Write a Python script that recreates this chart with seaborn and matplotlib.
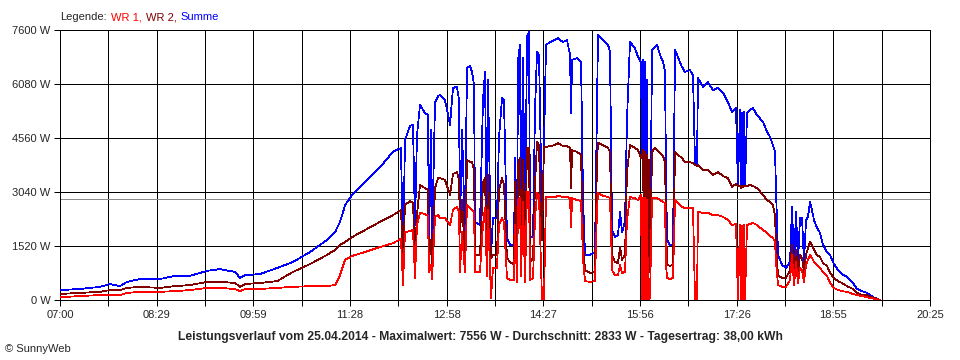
import numpy as np
import pandas as pd
import seaborn as sns
import matplotlib.pyplot as plt

# Zeit in Minuten seit 07:00, Leistung in W
zeit = [0.0, 18.5, 37.0, 46.3, 55.5, 62.0, 74.0, 92.5, 106.4, 120.3, 136.1, 148.0, 161.9, 166.6,
        171.2, 185.1, 200.8, 215.6, 231.3, 247.1, 254.5, 259.1, 263.8, 270.2, 282.2, 296.1, 308.1, 315.5,
        317.4, 319.2, 323.9, 326.6, 328.5, 330.3, 333.1, 337.7, 340.5, 341.4, 343.3, 344.2, 347.0, 349.8,
        351.6, 356.2, 360.9, 363.6, 367.3, 369.2, 370.1, 372.0, 374.7, 376.6, 379.4, 381.2, 383.1, 384.0,
        388.6, 391.4, 393.2, 395.1, 396.0, 398.8, 400.6, 404.3, 406.2, 409.0, 410.8, 413.6, 416.4, 420.1,
        421.0, 422.9, 423.8, 425.6, 426.6, 428.4, 430.3, 432.1, 434.0, 434.9, 437.7, 439.5, 441.4, 443.2,
        444.1, 446.0, 447.8, 449.7,
        453.4, 458.0, 460.8, 465.4, 469.1, 471.9, 472.9, 473.8, 478.4, 482.1, 484.0, 485.8, 490.4, 495.0,
        496.9, 497.8, 502.4, 507.1, 508.9, 510.8, 513.5, 516.3, 518.2, 520.0, 522.8, 524.6, 527.4, 532.0,
        534.8, 537.6,
        538.5, 539.5, 540.4, 541.3, 542.2, 543.2, 544.1, 545.0, 545.9,
        547.8, 550.5, 552.4, 555.2, 558.0, 559.8, 560.7, 561.7, 564.4, 567.2,
        569.1, 571.8, 575.5, 578.3, 582.9, 585.7, 587.6, 589.4, 590.3,
        595.0, 599.6, 604.2, 608.8, 613.5, 618.1, 621.8, 625.5,
        627.3, 629.2, 630.1, 631.0, 632.0, 632.9, 633.8, 635.7,
        638.4, 641.2, 644.9, 650.5, 654.2, 657.0, 659.7, 661.6, 662.5, 664.4,
        668.1, 671.8, 675.5, 677.3, 679.2, 681.0, 682.9, 684.7, 686.6, 688.4,
        690.3, 692.1, 694.0, 695.8, 697.7, 700.4, 703.2, 706.0, 709.7, 712.5,
        716.2, 719.9, 723.6, 728.2, 733.7, 737.5, 742.1, 746.7, 752.3, 756.8, 758.7]

summe = [280, 310, 370, 450, 390, 510, 590, 590, 680, 680, 820, 870, 790, 620,
         700, 730, 900, 1070, 1350, 1690, 1910, 2200, 2670, 2960, 3320, 3740, 4170, 4280,
         1180, 4500, 4900, 4930, 2110, 4640, 5490, 5260, 5210, 1630, 4790, 1550, 5570, 5740,
         5770, 5630, 4930, 5970, 6000, 5630, 2110, 4790, 1910, 6530, 6590, 6420, 6050, 2200,
         2110, 5630, 6420, 1630, 6190, 1270, 2310, 2310, 4560, 5690, 5630, 1750, 1550, 1550,
         4000, 1630, 6760, 7180, 2110, 6810, 1750, 7400, 7556, 1750, 1800, 5350, 6980, 6900,
         5490, 2110, 4300, 7180,
         7260, 7320, 7370, 7260, 7320, 6900, 5260, 6760, 6810, 6700, 2810, 1270, 1270, 1350,
         5630, 7460, 7320, 7180, 6980, 1970, 1770, 1830, 2480, 1910, 2200, 5070, 7260, 7090,
         6840, 6700,
         4000, 6760, 790, 6700, 1130, 6190, 840, 3940, 790,
         7040, 7120, 7180, 6900, 6700, 6420, 3660, 1690, 1550, 1550,
         7040, 6840, 6560, 6420, 6470, 6330, 3800, 3800, 6250,
         6000, 6130, 5910, 5970, 5830, 5570, 5290, 5400,
         3210, 5350, 3150, 5260, 3180, 5290, 3210, 5260,
         5350, 5400, 5210, 5010, 4730, 4590, 4360, 4170, 3100, 1270,
         990, 900, 1070, 2620, 990, 2480, 1070, 2310, 2310, 1070,
         2250, 2340, 2760, 2530, 2250, 2030, 1890, 1550, 1350, 1270,
         1010, 840, 730, 650, 480, 310, 250, 200, 80, 30, 0]

wr2 = [170, 200, 230, 280, 280, 340, 370, 340, 390, 420, 510, 510, 480, 370,
       450, 480, 530, 790, 1010, 1270, 1410, 1550, 1630, 1770, 1970, 2200, 2390, 2530,
       1180, 2670, 2790, 2730, 1270, 2390, 3240, 3150, 3100, 1070, 1690, 790, 3150, 3430,
       3430, 3380, 2960, 3550, 3600, 3380, 1910, 2810, 1180, 3940, 3880, 3880, 3660, 1270,
       1270, 3320, 3430, 1070, 3520, 1180, 1270, 1270, 3100, 3430, 3240, 1180, 1070, 990,
       3320, 1070, 3800, 4000, 1270, 3940, 1070, 4280, 4280, 1070, 1180, 3240, 4450, 4360,
       3240, 1690, 4300, 4310,
       4330, 4360, 4420, 4330, 4330, 4280, 3150, 4220, 4170, 4080, 1550, 840, 760, 790,
       3940, 4420, 4360, 4280, 4170, 1270, 1070, 1040, 1490, 1130, 1270, 3600, 4360, 4280,
       4220, 4000,
       4000, 4220, 790, 4170, 990, 4080, 790, 3940, 790,
       4170, 4280, 4220, 4140, 4050, 3880, 2250, 990, 960, 990,
       4170, 4080, 4000, 3880, 3880, 3860, 3800, 3770, 3800,
       3660, 3660, 3520, 3600, 3490, 3430, 3180, 3270,
       3210, 3210, 3150, 3210, 3180, 3210, 3210, 3210,
       3240, 3210, 3150, 2960, 2810, 2760, 2670, 2390, 1550, 680,
       620, 620, 840, 1550, 700, 1410, 790, 1270, 1180, 790,
       1270, 1460, 1630, 1550, 1410, 1270, 1210, 1040, 960, 760,
       620, 530, 480, 390, 310, 200, 140, 140, 60, 30, 0]

wr1 = [80, 110, 140, 140, 140, 200, 230, 230, 250, 280, 340, 340, 310, 250,
       310, 310, 340, 370, 390, 390, 420, 700, 1130, 1240, 1350, 1490, 1600, 1720,
       420, 1910, 1940, 1970, 620, 2110, 2450, 2420, 2360, 790, 990, 590, 2340, 2390,
       2310, 2310, 2110, 2530, 2620, 2480, 790, 1910, 790, 2670, 2590, 2530, 2480, 790,
       790, 2110, 2590, 680, 2530, 60, 900, 900, 2110, 2310, 2200, 620, 560, 560,
       2110, 510, 2810, 2870, 680, 2760, 510, 3040, 3040, 560, 620, 2310, 3010, 2960,
       1970, 0, 0, 2900,
       2900, 2900, 2930, 2900, 2900, 2870, 2050, 2870, 2810, 2790, 1130, 530, 510, 530,
       2530, 3010, 2930, 2900, 2870, 840, 700, 700, 990, 760, 790, 2250, 2900, 2870,
       2810, 2960,
       0, 2870, 0, 2870, 0, 2810, 0, 0, 60,
       2870, 2870, 2870, 2810, 2760, 2730, 990, 620, 590, 620,
       2810, 2730, 2620, 2590, 2590, 2590, 0, 0, 2480,
       2450, 2450, 2390, 2390, 2340, 2250, 2110, 2140,
       0, 2110, 0, 2080, 0, 2110, 0, 2110,
       2140, 2170, 2110, 1970, 1890, 1800, 1750, 1630, 1070, 420,
       370, 370, 560, 1270, 420, 1070, 480, 900, 840, 510,
       990, 1130, 1270, 1180, 1070, 990, 900, 790, 680, 480,
       340, 280, 250, 230, 170, 140, 110, 80, 40, 15, 0]

durchschnitt = 2833
zeit_labels = ["07:00", "08:29", "09:59", "11:28", "12:58", "14:27", "15:56", "17:26", "18:55", "20:25"]
y_ticks = [0, 1520, 3040, 4560, 6080, 7600]
titel = ("Leistungsverlauf vom 25.04.2014 - Maximalwert: 7556 W - Durchschnitt: 2833 W"
         " - Tagesertrag: 38,00 kWh")

assert len(zeit) == len(summe) == len(wr2) == len(wr1)
n = len(zeit)

sns.set_style("white")
plt.rcParams["font.family"] = ["Liberation Sans", "DejaVu Sans"]

df = pd.DataFrame({
    "zeit": zeit * 3,
    "wert": summe + wr2 + wr1,
    "serie": ["Summe"] * n + ["WR 2"] * n + ["WR 1"] * n,
})

fig = plt.figure(figsize=(9.6, 3.6), dpi=100)
ax = fig.add_axes([60 / 960, 60 / 360, 870 / 960, 270 / 360])

px = 0.72  # eine Pixelbreite bei 100 dpi
ax.axhline(durchschnitt, color="#8c8c8c", lw=px, zorder=2, antialiased=False)
sns.lineplot(data=df, x="zeit", y="wert", hue="serie",
             hue_order=["Summe", "WR 2", "WR 1"],
             palette=["#0000ff", "#800000", "#ff0000"],
             estimator=None, sort=False, legend=False, linewidth=0.55, ax=ax, zorder=3,
             antialiased=False)

ax.set_xlim(0, 805)
ax.set_ylim(0, 7600)
ax.set_xticks(np.linspace(0, 805, 10))
ax.set_xticklabels(zeit_labels)
ax.set_xticks(np.linspace(0, 805, 19), minor=True)
ax.set_yticks(y_ticks)
ax.set_yticklabels([f"{v} W" for v in y_ticks])
ax.set_xlabel("")
ax.set_ylabel("")

ax.grid(True, which="both", axis="x", color="black", lw=px, zorder=1, antialiased=False)
ax.grid(True, which="major", axis="y", color="black", lw=px, zorder=1, antialiased=False)
ax.set_axisbelow(True)
ax.tick_params(which="both", direction="out", length=4, width=px, color="black",
               labelsize=8, pad=3, left=True, bottom=True)
for sp in ax.spines.values():
    sp.set_color("black")
    sp.set_linewidth(px)

# Legende oben
t = fig.text(60 / 960, 1 - 17 / 360, "Legende:", fontsize=8, va="center", ha="left")
for txt, col in [("WR 1,", "#ff0000"), ("WR 2,", "#800000"), ("Summe", "#0000ff")]:
    t = ax.annotate(txt, xy=(1, 0), xycoords=t, xytext=(3, 0), textcoords="offset points",
                    va="bottom", ha="left", fontsize=8, color=col, annotation_clip=False)

fig.text(0.5, 1 - 337 / 360, titel, fontsize=8.7, weight="bold", ha="center", va="center")
fig.text(5 / 960, 1 - 349 / 360, "© SunnyWeb", fontsize=8, ha="left", va="center")

fig.savefig("out.png", dpi=100)
